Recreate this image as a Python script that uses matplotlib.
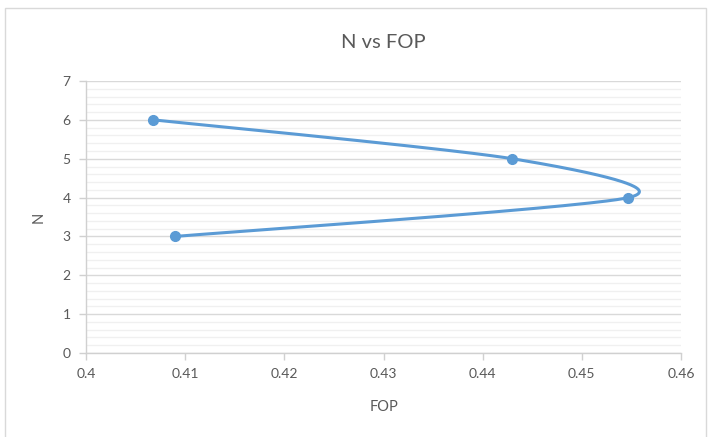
import numpy as np
import matplotlib
matplotlib.use("Agg")
import matplotlib.pyplot as plt
from matplotlib.patches import Rectangle
from matplotlib.ticker import MultipleLocator

fop = [0.4090, 0.4547, 0.4430, 0.4068]
n_vals = [3, 4, 5, 6]
x_ticks = [0.40, 0.41, 0.42, 0.43, 0.44, 0.45, 0.46]
x_labels = ["0.4", "0.41", "0.42", "0.43", "0.44", "0.45", "0.46"]

blue = "#5B9BD5"
grey_text = "#595959"

plt.rcParams['font.family'] = ['Lato', 'DejaVu Sans']

fig = plt.figure(figsize=(7.1, 4.37), dpi=100)
ax = fig.add_axes([0.1211, 0.1922, 0.8381, 0.6224])
ax.set_xlim(0.40, 0.46)
ax.set_ylim(0, 7)


def smooth_curve(xs, ys, ax, k=0.13, steps=80):
    # smoothed line: cubic Bezier segments with control points taken
    # from neighbouring points, computed in display space
    pts = ax.transData.transform(np.column_stack([xs, ys]))
    p = np.vstack([pts[0], pts, pts[-1]])
    out = []
    for i in range(1, len(p) - 2):
        p0, p1, p2, p3 = p[i - 1], p[i], p[i + 1], p[i + 2]
        c1 = p1 + (p2 - p0) * k
        c2 = p2 - (p3 - p1) * k
        t = np.linspace(0, 1, steps)[:, None]
        seg = ((1 - t) ** 3) * p1 + 3 * ((1 - t) ** 2) * t * c1 \
            + 3 * (1 - t) * t ** 2 * c2 + t ** 3 * p2
        out.append(seg)
    curve = np.vstack(out)
    return ax.transData.inverted().transform(curve)


curve = smooth_curve(fop, n_vals, ax)
ax.plot(curve[:, 0], curve[:, 1], color=blue, lw=2.2, solid_capstyle="round", zorder=3)
ax.plot(fop, n_vals, "o", color=blue, markersize=7, zorder=4)

ax.yaxis.set_major_locator(MultipleLocator(1))
ax.yaxis.set_minor_locator(MultipleLocator(0.2))
ax.set_xticks(x_ticks)
ax.set_xticklabels(x_labels)
ax.grid(which="major", axis="y", color="#d9d9d9", lw=1.0, zorder=1)
ax.grid(which="minor", axis="y", color="#f0f0f0", lw=1.0, zorder=0)

for side in ["top", "right"]:
    ax.spines[side].set_visible(False)
for side in ["left", "bottom"]:
    ax.spines[side].set_color("#d0d0d0")
    ax.spines[side].set_linewidth(1.0)

ax.tick_params(axis="both", which="major", length=5, width=1, color="#d0d0d0",
               labelcolor=grey_text, labelsize=10)
ax.tick_params(axis="y", which="minor", length=0)
ax.tick_params(axis="x", pad=6)
ax.tick_params(axis="y", pad=6)

ax.set_title("N vs FOP", fontsize=14.5, color=grey_text, pad=24)
ax.set_xlabel("FOP", fontsize=10.5, color=grey_text, labelpad=14)
ax.set_ylabel("N", fontsize=10.5, color=grey_text, labelpad=12)

fig.patches.append(Rectangle((5 / 710, -0.01), 701 / 710, 1 - 8 / 437 + 0.01,
                             transform=fig.transFigure, fill=False,
                             edgecolor="#d9d9d9", lw=1.0))

fig.savefig("out.png", dpi=100)
